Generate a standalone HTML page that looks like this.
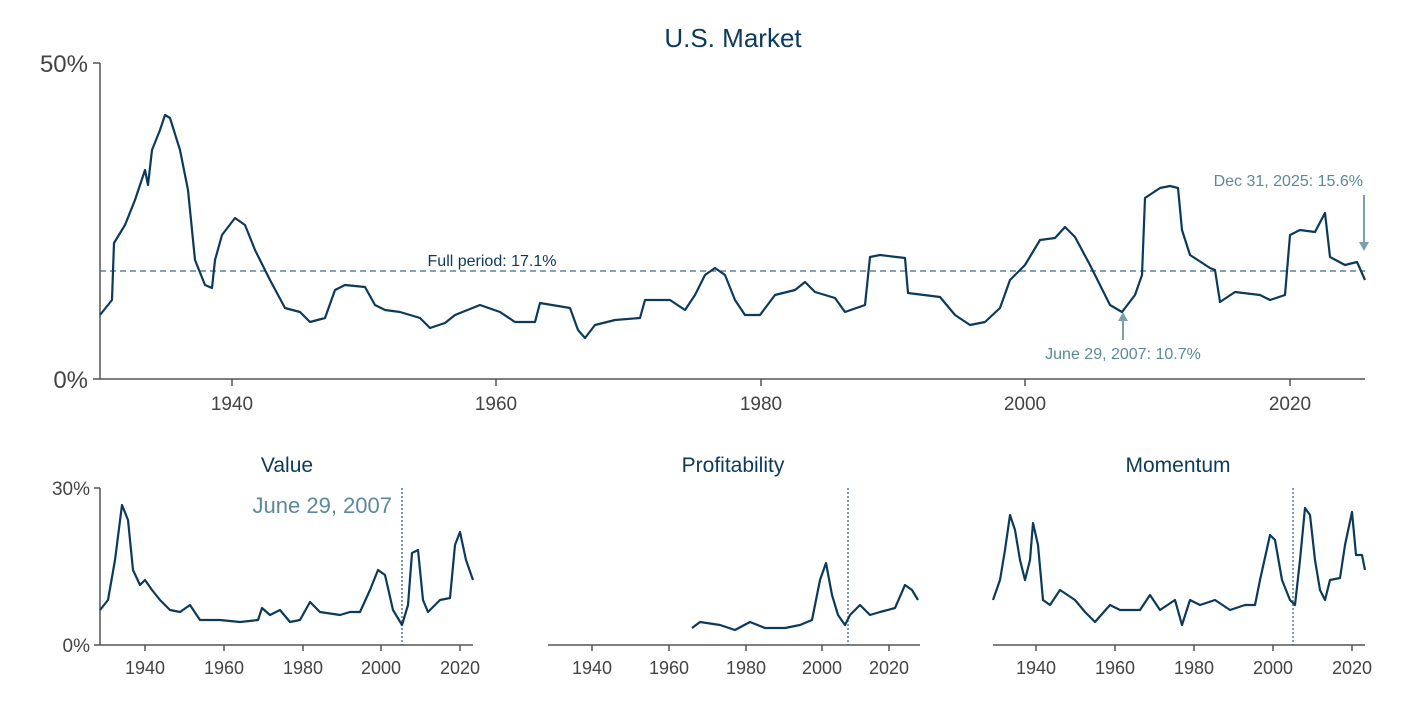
<!DOCTYPE html>
<html><head><meta charset="utf-8"><style>
html,body{margin:0;padding:0;background:#fff}
svg text{font-family:"Liberation Sans",sans-serif}
</style></head><body>
<svg width="1405" height="699" viewBox="0 0 1405 699" xmlns="http://www.w3.org/2000/svg">
<g fill="none" stroke="#555" stroke-width="1.5">
<path d="M100,63 V379 H1365"/>
<path d="M93,63 H100 M93,379 H100"/>
<path d="M232,379 v7 M496,379 v7 M761,379 v7 M1025,379 v7 M1290,379 v7"/>
<path d="M100,488 V645 H473 M94,488 H100 M94,645 H100"/>
<path d="M145,645 v6 M224,645 v6 M303,645 v6 M381,645 v6 M460,645 v6"/>
<path d="M548,645 H920"/>
<path d="M592,645 v6 M669,645 v6 M746,645 v6 M822,645 v6 M889,645 v6"/>
<path d="M993,645 H1365"/>
<path d="M1036,645 v6 M1115,645 v6 M1194,645 v6 M1273,645 v6 M1352,645 v6"/>
</g>
<g font-size="24" fill="#444" text-anchor="end">
<text x="88" y="72">50%</text><text x="88" y="388">0%</text>
</g>
<g font-size="19" fill="#444" text-anchor="middle">
<text x="232" y="410">1940</text><text x="496" y="410">1960</text><text x="761" y="410">1980</text><text x="1025" y="410">2000</text><text x="1290" y="410">2020</text>
</g>
<g font-size="18" fill="#444" text-anchor="middle">
<text x="145" y="674">1940</text><text x="224" y="674">1960</text><text x="303" y="674">1980</text><text x="381" y="674">2000</text><text x="460" y="674">2020</text>
<text x="592" y="674">1940</text><text x="669" y="674">1960</text><text x="746" y="674">1980</text><text x="822" y="674">2000</text><text x="889" y="674">2020</text>
<text x="1036" y="674">1940</text><text x="1115" y="674">1960</text><text x="1194" y="674">1980</text><text x="1273" y="674">2000</text><text x="1352" y="674">2020</text>
</g>
<g font-size="19" fill="#444" text-anchor="end">
<text x="90" y="495">30%</text><text x="90" y="652">0%</text>
</g>
<text x="733" y="47" font-size="26" fill="#0b3a5a" text-anchor="middle">U.S. Market</text>
<g font-size="21" fill="#0b3a5a" text-anchor="middle">
<text x="287" y="472">Value</text><text x="733" y="472">Profitability</text><text x="1178" y="472">Momentum</text>
</g>
<path d="M100,271 H1365" stroke="#3a6a80" stroke-width="1.3" stroke-dasharray="6,4" fill="none"/>
<text x="492" y="266" font-size="16" fill="#0b3a5a" text-anchor="middle">Full period: 17.1%</text>
<text x="1363" y="186" font-size="16" fill="#5a8a99" text-anchor="end">Dec 31, 2025: 15.6%</text>
<path d="M1364,195 V245" stroke="#7aa0ad" stroke-width="2"/><path d="M1359,242 L1364,251 L1369,242 Z" fill="#7aa0ad"/>
<text x="1123" y="359" font-size="16" fill="#5a8a99" text-anchor="middle">June 29, 2007: 10.7%</text>
<path d="M1123,340 V318" stroke="#7aa0ad" stroke-width="2"/><path d="M1118,321 L1123,312 L1128,321 Z" fill="#7aa0ad"/>
<g stroke="#3a6a80" stroke-width="1.3" stroke-dasharray="2,2"><path d="M402,488 V645 M848,488 V645 M1293,488 V645"/></g>
<text x="392" y="513" font-size="22" fill="#5a8a99" text-anchor="end">June 29, 2007</text>
<g fill="none" stroke="#0b3a5a" stroke-width="2.2" stroke-linejoin="round">
<polyline points="100,315 112,300 114,243 125,225 135,200 145,170 148,185 152,150 160,130 165,115 170,118 180,150 188,190 195,260 205,285 212,288 215,260 222,235 235,218 245,225 255,250 270,280 285,308 300,312 310,322 325,318 335,290 345,285 365,287 375,305 385,310 400,312 420,318 430,328 445,323 455,315 480,305 500,312 515,322 535,322 540,303 570,308 578,330 585,338 595,325 615,320 640,318 645,300 670,300 685,310 695,295 705,275 715,268 725,275 735,300 745,315 760,315 775,295 795,290 805,282 815,292 835,298 845,312 865,305 870,257 880,255 905,258 908,293 940,297 955,315 970,325 985,322 1000,308 1010,280 1025,265 1040,240 1055,238 1065,227 1075,237 1090,265 1100,285 1110,305 1122,312 1135,295 1142,275 1145,198 1160,188 1170,186 1178,188 1182,230 1190,255 1210,268 1215,270 1220,302 1235,292 1260,295 1270,300 1285,295 1290,235 1300,230 1315,232 1325,213 1330,257 1345,265 1357,262 1365,280"/>
<polyline points="100,610 108,600 115,560 122,505 128,520 133,570 140,585 145,580 152,590 160,600 170,610 180,612 190,605 200,620 220,620 240,622 258,620 262,608 270,615 280,610 290,622 300,620 310,602 320,612 340,615 350,612 360,612 370,590 378,570 385,575 393,610 402,625 408,605 412,553 418,550 420,570 423,600 428,612 440,600 450,598 455,545 460,532 466,560 473,580"/>
<polyline points="692,628 700,622 720,625 735,630 750,622 765,628 785,628 800,625 812,620 820,580 826,563 832,595 838,615 845,625 850,615 860,605 870,615 880,612 895,608 905,585 912,590 918,600"/>
<polyline points="993,600 1000,580 1005,550 1010,515 1015,530 1020,560 1025,580 1030,560 1033,523 1038,545 1043,600 1050,605 1060,590 1075,600 1085,612 1095,622 1110,605 1120,610 1140,610 1150,595 1160,610 1175,600 1182,625 1190,600 1200,605 1215,600 1230,610 1245,605 1255,605 1260,580 1270,535 1275,540 1282,580 1290,600 1295,605 1300,560 1305,508 1310,515 1315,560 1320,590 1325,600 1330,580 1340,578 1345,545 1352,512 1356,555 1362,555 1365,570"/>
</g>
</svg>
</body></html>
